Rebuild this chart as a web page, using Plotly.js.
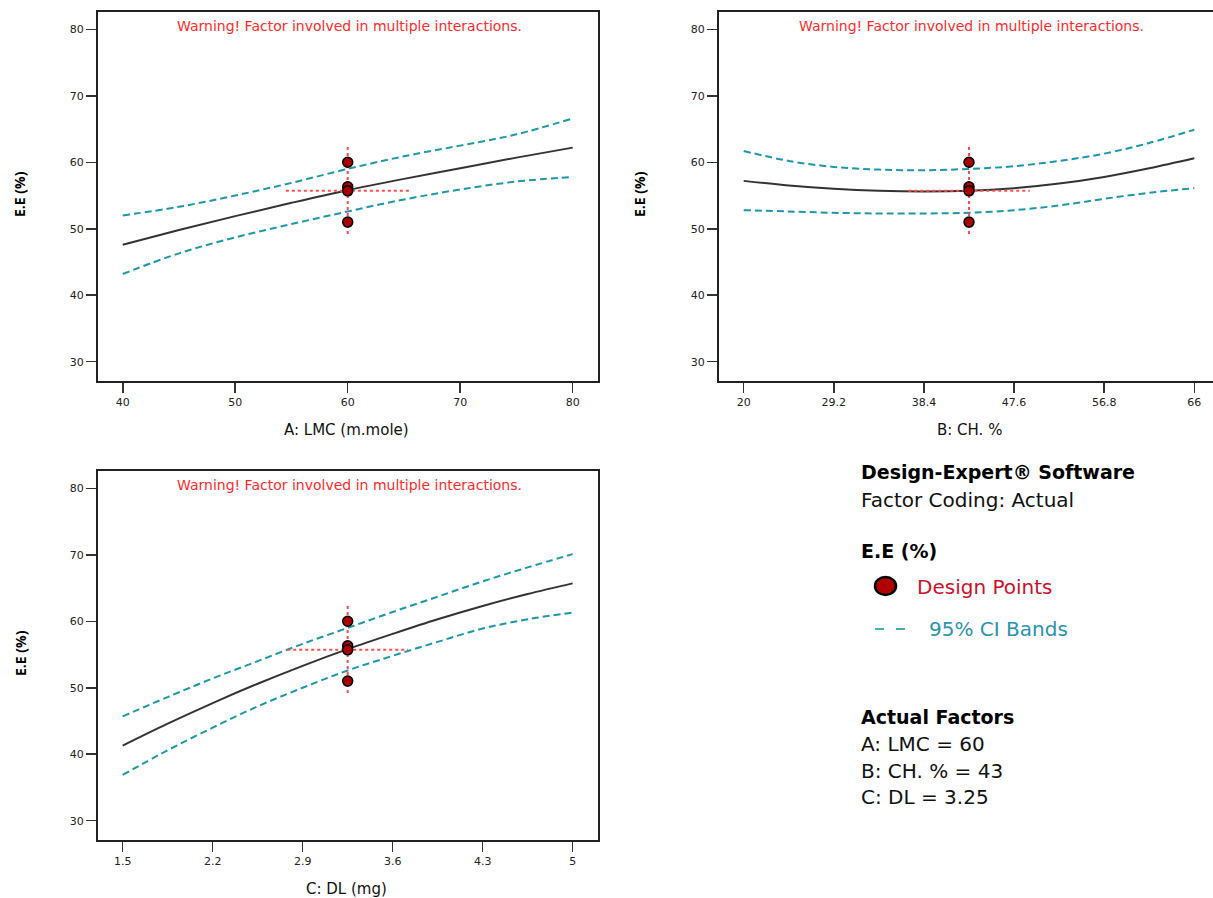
<!DOCTYPE html>
<html>
<head>
<meta charset="utf-8">
<script src="https://cdn.plot.ly/plotly-3.0.1.min.js"></script>
<style>html,body{margin:0;padding:0;background:#fff;}#chart{width:1213px;height:898px;}</style>
</head>
<body>
<div id="chart"></div>
<script>
// ---------- data ----------
const xA = [40, 45, 50, 55, 60, 65, 70, 75, 80];
const predA = [47.6, 49.8, 51.9, 53.9, 55.8, 57.5, 59.1, 60.7, 62.2];
const upA = [52.0, 53.3, 55.0, 56.9, 59.0, 60.9, 62.5, 64.2, 66.6];
const loA = [43.2, 46.3, 48.7, 50.7, 52.6, 54.4, 55.9, 57.1, 57.8];

const xB = [20, 24.6, 29.2, 33.8, 38.4, 43, 47.6, 52.2, 56.8, 61.4, 66];
const predB = [57.2, 56.5, 56.0, 55.7, 55.6, 55.7, 56.1, 56.8, 57.8, 59.1, 60.6];
const upB = [61.7, 60.2, 59.3, 58.9, 58.8, 59.0, 59.4, 60.2, 61.3, 62.9, 64.9];
const loB = [52.8, 52.6, 52.4, 52.3, 52.3, 52.4, 52.8, 53.5, 54.5, 55.4, 56.1];

const xC = [1.5, 1.85, 2.2, 2.55, 2.9, 3.25, 3.6, 3.95, 4.3, 4.65, 5];
const predC = [41.3, 44.6, 47.7, 50.6, 53.3, 55.8, 58.1, 60.3, 62.3, 64.1, 65.7];
const upC = [45.7, 48.6, 51.4, 54.0, 56.6, 59.0, 61.4, 63.7, 66.0, 68.1, 70.1];
const loC = [36.9, 40.6, 44.0, 47.2, 50.0, 52.6, 54.8, 56.9, 58.9, 60.3, 61.3];

const designY = [60, 56.3, 55.7, 51];
const centerA = 60, centerB = 43, centerC = 3.25;
const crossY = 55.7;
const crossV = [49.2, 62.7];
const crossHA = [54.5, 65.5];
const crossHB = [36.8, 49.2];
const crossHC = [2.78, 3.72];

const ticksA = [40, 50, 60, 70, 80];
const ticksB = [20, 29.2, 38.4, 47.6, 56.8, 66];
const ticksC = [1.5, 2.2, 2.9, 3.6, 4.3, 5];
const ticksY = [30, 40, 50, 60, 70, 80];

const titleA = 'A: LMC (m.mole)';
const titleB = 'B: CH. %';
const titleC = 'C: DL (mg)';
const titleY = 'E.E (%)';
const warning = 'Warning! Factor involved in multiple interactions.';
const factorLines = ['A: LMC = 60', 'B: CH. % = 43', 'C: DL = 3.25'];

// ---------- styles ----------
const W = 1213, H = 898;
const px = v => v / W;
const py = v => 1 - v / H;
const CI_COLOR = '#1d97ab';
const PRED_COLOR = '#333333';
const PT_FILL = '#a80000';
const CROSS_COLOR = '#ff4d4d';
const FONT = 'DejaVu Sans, sans-serif';
const FONT2 = 'Open Sans, Noto Sans, sans-serif';

function panel(xs, pred, up, lo, center, crossH, xa, ya) {
  return [
    {x: xs, y: up, xaxis: xa, yaxis: ya, mode: 'lines', line: {color: CI_COLOR, width: 2, dash: '7px,4px', shape: 'spline'}, hoverinfo: 'skip'},
    {x: xs, y: lo, xaxis: xa, yaxis: ya, mode: 'lines', line: {color: CI_COLOR, width: 2, dash: '7px,4px', shape: 'spline'}, hoverinfo: 'skip'},
    {x: xs, y: pred, xaxis: xa, yaxis: ya, mode: 'lines', line: {color: PRED_COLOR, width: 2, shape: 'spline'}},
    {x: crossH, y: [crossY, crossY], xaxis: xa, yaxis: ya, mode: 'lines', line: {color: CROSS_COLOR, width: 2, dash: 'dot'}},
    {x: [center, center], y: crossV, xaxis: xa, yaxis: ya, mode: 'lines', line: {color: CROSS_COLOR, width: 2, dash: 'dot'}},
    {x: designY.map(() => center), y: designY, xaxis: xa, yaxis: ya, mode: 'markers',
     marker: {color: PT_FILL, size: 10, line: {color: '#000', width: 1.5}}}
  ];
}

const data = [].concat(
  panel(xA, predA, upA, loA, centerA, crossHA, 'x', 'y'),
  panel(xB, predB, upB, loB, centerB, crossHB, 'x2', 'y2'),
  panel(xC, predC, upC, loC, centerC, crossHC, 'x3', 'y3')
);

const axisBase = {
  showgrid: false, zeroline: false, showline: true, linecolor: '#222', linewidth: 2,
  mirror: true, ticks: 'outside', ticklen: 10, tickwidth: 1.5, tickcolor: '#333',
  tickfont: {size: 11, color: '#222', family: FONT}, fixedrange: true
};

const yRange = [27.1, 82.6];
const yTopDom = [py(381), py(12)];
const yBotDom = [py(840), py(471)];

const layout = {
  width: W, height: H,
  margin: {l: 0, r: 0, t: 0, b: 0},
  paper_bgcolor: '#fff', plot_bgcolor: '#fff',
  showlegend: false,
  font: {family: FONT, color: '#111'},
  xaxis: Object.assign({}, axisBase, {domain: [px(98), px(598)], range: [37.8, 82.25], tickvals: ticksA, ticktext: ticksA.map(String), anchor: 'y'}),
  yaxis: Object.assign({}, axisBase, {domain: yTopDom, range: yRange, tickvals: ticksY, anchor: 'x'}),
  xaxis2: Object.assign({}, axisBase, {domain: [px(719), 1], range: [17.48, 67.91], tickvals: ticksB, ticktext: ticksB.map(String), anchor: 'y2'}),
  yaxis2: Object.assign({}, axisBase, {domain: yTopDom, range: yRange, tickvals: ticksY, anchor: 'x2', mirror: false}),
  xaxis3: Object.assign({}, axisBase, {domain: [px(98), px(598)], range: [1.308, 5.197], tickvals: ticksC, ticktext: ticksC.map(String), anchor: 'y3'}),
  yaxis3: Object.assign({}, axisBase, {domain: yBotDom, range: yRange, tickvals: ticksY, anchor: 'x3'}),
  annotations: [],
  shapes: []
};

function txt(text, x, y, opts) {
  layout.annotations.push(Object.assign({
    text: text, x: px(x), y: py(y), xref: 'paper', yref: 'paper',
    showarrow: false, xanchor: 'center', yanchor: 'middle',
    font: {size: 12, color: '#111', family: FONT}
  }, opts || {}));
}

// warnings
const warnFont = {size: 14, color: '#ff2a2a', family: FONT};
txt(warning, 349.6, 26, {font: warnFont});
txt(warning, 971, 26, {font: warnFont});
txt(warning, 349.6, 485, {font: warnFont});

// axis titles
const xtFont = {size: 15, color: '#111', family: FONT};
txt(titleA, 347, 430, {font: xtFont});
txt(titleB, 969, 430, {font: xtFont});
txt(titleC, 347, 889, {font: xtFont});
const ytFont = {size: 14, color: '#000', family: FONT2};
txt('<b>' + titleY + '</b>', 20, 194, {textangle: -90, font: ytFont});
txt('<b>' + titleY + '</b>', 640, 194, {textangle: -90, font: ytFont});
txt('<b>' + titleY + '</b>', 20, 653, {textangle: -90, font: ytFont});

// legend block
const L = {xanchor: 'left'};
const boldF = {size: 19, color: '#000', family: FONT};
const regF = {size: 20, color: '#111', family: FONT};
txt('<b>Design-Expert® Software</b>', 859, 472, Object.assign({}, L, {font: boldF}));
txt('Factor Coding: Actual', 859, 500, Object.assign({}, L, {font: regF}));
txt('<b>E.E (%)</b>', 859, 551, Object.assign({}, L, {font: boldF}));
txt('Design Points', 915, 587, Object.assign({}, L, {font: {size: 20, color: '#d0102a', family: FONT}}));
txt('95% CI Bands', 927, 629, Object.assign({}, L, {font: {size: 20, color: '#2a93ae', family: FONT}}));
txt('<b>Actual Factors</b>', 859, 717, Object.assign({}, L, {font: boldF}));
factorLines.forEach((s, i) => txt(s, 859, 744 + i * 26.7, Object.assign({}, L, {font: regF})));

layout.shapes.push({type: 'circle', xref: 'paper', yref: 'paper',
  x0: px(875), x1: px(896), y0: py(595), y1: py(577),
  fillcolor: '#b00000', line: {color: '#000', width: 2.5}});
layout.shapes.push({type: 'line', xref: 'paper', yref: 'paper',
  x0: px(875), x1: px(907), y0: py(629), y1: py(629),
  line: {color: '#4aaabb', width: 2, dash: '9px,12px'}});

Plotly.newPlot('chart', data, layout, {displayModeBar: false, staticPlot: true});
</script>
</body>
</html>
